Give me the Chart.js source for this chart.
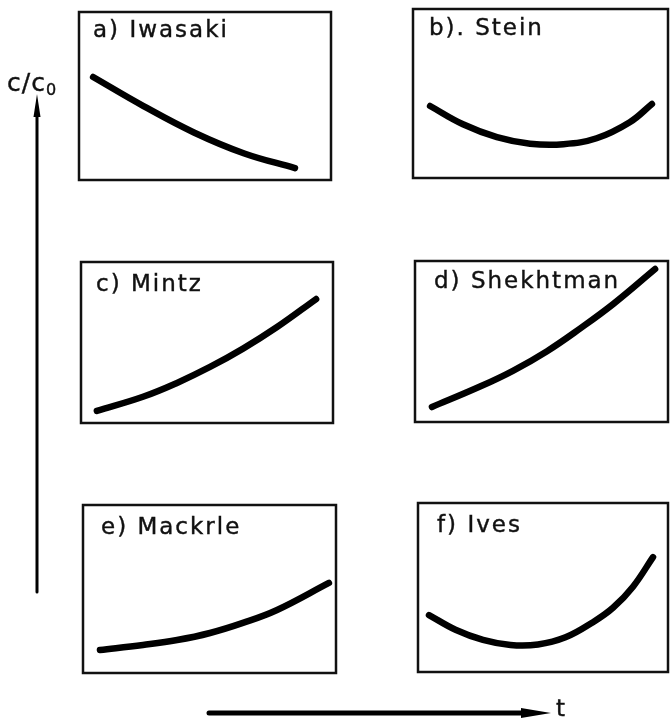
<!DOCTYPE html>
<html>
<head>
<meta charset="utf-8">
<script src="https://cdn.jsdelivr.net/npm/chart.js@4.4.1/dist/chart.umd.min.js"></script>
<style>
    body { margin: 0; background: #fff; }
    #page { position: relative; width: 671px; height: 720px; overflow: hidden; }
    .panel { position: absolute; }
    .label {
        position: absolute;
        font-family: "DejaVu Sans", sans-serif;
        font-size: 23px;
        letter-spacing: 2px;
        color: #111;
        -webkit-text-stroke: 0.4px #111;
        line-height: 1;
        white-space: nowrap;
    }
    #yname { font-size: 25px; letter-spacing: 1px; }
    #yname sub { font-size: 16px; vertical-align: -4px; }
    #xname { font-size: 23px; }
    svg { position: absolute; left: 0; top: 0; }
</style>
</head>
<body>
<div id="page">
    <canvas id="pa" class="panel"></canvas>
    <canvas id="pb" class="panel"></canvas>
    <canvas id="pc" class="panel"></canvas>
    <canvas id="pd" class="panel"></canvas>
    <canvas id="pe" class="panel"></canvas>
    <canvas id="pf" class="panel"></canvas>

    <svg width="671" height="720">
        <line x1="37" y1="112" x2="37" y2="592" stroke="#000" stroke-width="3" stroke-linecap="round"/>
        <path d="M37 94 L40.5 117 L33.5 117 Z" fill="#000"/>
        <line x1="209" y1="713" x2="525" y2="713" stroke="#000" stroke-width="5" stroke-linecap="round"/>
        <path d="M551 713 L521 708 L521 718 Z" fill="#000"/>
    </svg>

    <div id="yname" class="label" style="left:7px; top:70px;">c/c<sub>0</sub></div>
    <div id="xname" class="label" style="left:556px; top:697px;">t</div>
</div>

<script>
// shapes of c/c0 against t, normalised 0..1 inside each box
const tA = [0.056, 0.256, 0.456, 0.656, 0.857];
const cA = [0.613, 0.440, 0.283, 0.158, 0.071];

const tB = [0.067, 0.196, 0.329, 0.459, 0.590, 0.720, 0.850, 0.937];
const cB = [0.426, 0.318, 0.242, 0.203, 0.200, 0.235, 0.330, 0.438];

const tC = [0.063, 0.246, 0.381, 0.512, 0.643, 0.778, 0.933];
const cC = [0.075, 0.163, 0.249, 0.348, 0.462, 0.596, 0.770];

const tD = [0.067, 0.257, 0.387, 0.522, 0.652, 0.783, 0.949];
const cD = [0.093, 0.220, 0.318, 0.440, 0.580, 0.732, 0.950];

const tE = [0.067, 0.237, 0.372, 0.502, 0.632, 0.767, 0.972];
const cE = [0.137, 0.167, 0.196, 0.238, 0.298, 0.375, 0.536];

const tF = [0.044, 0.150, 0.260, 0.370, 0.480, 0.590, 0.700, 0.780, 0.860, 0.940];
const cF = [0.337, 0.250, 0.190, 0.160, 0.163, 0.205, 0.295, 0.380, 0.505, 0.680];

const names = ["a) Iwasaki", "b). Stein", "c) Mintz", "d) Shekhtman", "e) Mackrle", "f) Ives"];

const PAD = 4;

// box frames on the page: left, top, width, height
const boxes = [
    [79, 12, 252, 168],
    [413, 9, 255, 169],
    [81, 262, 252, 161],
    [415, 261, 253, 161],
    [83, 505, 253, 168],
    [418, 503, 250, 169]
];

// where the name sits inside each box
const nameAt = [
    [14, 6], [16, 7], [15, 10], [19, 8], [18, 10], [19, 10]
];

const frame = {
    id: "frame",
    afterDraw(chart) {
        const a = chart.chartArea;
        const ctx = chart.ctx;
        ctx.save();
        ctx.strokeStyle = "#111";
        ctx.lineWidth = 2.5;
        ctx.strokeRect(a.left, a.top, a.right - a.left, a.bottom - a.top);
        ctx.restore();
    }
};

const toPoints = (ts, cs) => ts.map((t, i) => ({ x: t, y: cs[i] }));

const drawPanel = (id, box, ts, cs) => {
    const canvas = document.getElementById(id);
    canvas.width = box[2] + PAD * 2;
    canvas.height = box[3] + PAD * 2;
    canvas.style.left = (box[0] - PAD) + "px";
    canvas.style.top = (box[1] - PAD) + "px";

    return new Chart(canvas, {
        type: "line",
        data: {
            datasets: [{
                data: toPoints(ts, cs),
                borderColor: "#000",
                borderWidth: 6.5,
                borderCapStyle: "round",
                borderJoinStyle: "round",
                tension: 0.4,
                pointRadius: 0,
                fill: false
            }]
        },
        options: {
            responsive: false,
            animation: false,
            layout: { padding: PAD },
            plugins: {
                legend: { display: false },
                tooltip: { enabled: false }
            },
            scales: {
                x: { type: "linear", min: 0, max: 1, display: false },
                y: { min: 0, max: 1, display: false }
            }
        },
        plugins: [frame]
    });
};

const series = [[tA, cA], [tB, cB], [tC, cC], [tD, cD], [tE, cE], [tF, cF]];
const ids = ["pa", "pb", "pc", "pd", "pe", "pf"];

ids.forEach((id, i) => {
    drawPanel(id, boxes[i], series[i][0], series[i][1]);

    const lab = document.createElement("div");
    lab.className = "label";
    lab.textContent = names[i];
    lab.style.left = (boxes[i][0] + nameAt[i][0]) + "px";
    lab.style.top = (boxes[i][1] + nameAt[i][1]) + "px";
    document.getElementById("page").appendChild(lab);
});
</script>
</body>
</html>
